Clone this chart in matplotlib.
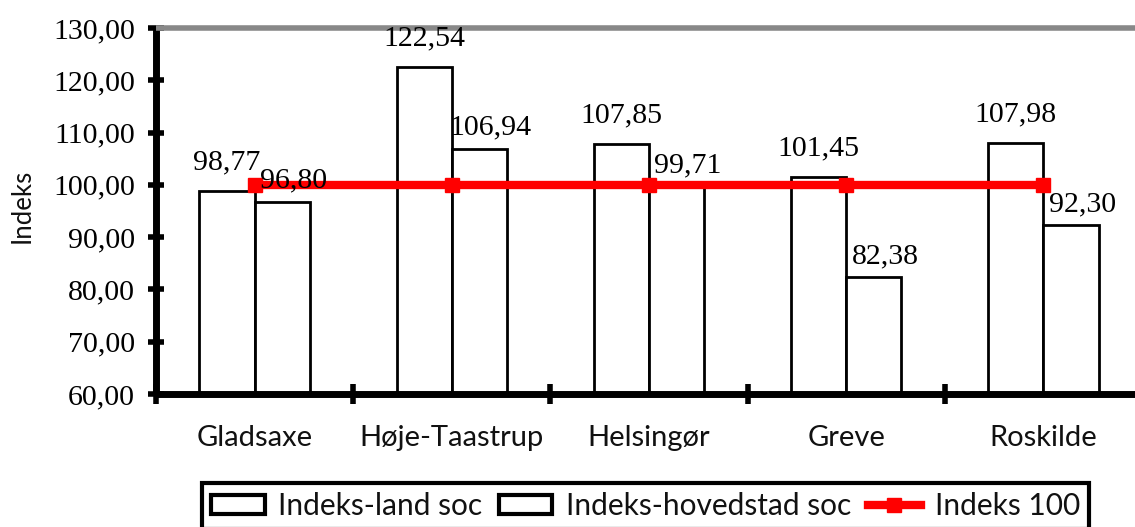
import matplotlib
matplotlib.use("Agg")
import matplotlib.pyplot as plt
import numpy as np
from matplotlib.ticker import FuncFormatter, FixedLocator

categories = ['Gladsaxe', 'Høje-Taastrup', 'Helsingør', 'Greve', 'Roskilde']
land_soc = [98.77, 122.54, 107.85, 101.45, 107.98]
hovedstad_soc = [96.80, 106.94, 99.71, 82.38, 92.30]
indeks_100 = [100, 100, 100, 100, 100]
series_names = ['Indeks-land soc', 'Indeks-hovedstad soc', 'Indeks 100']
y_ticks = [60, 70, 80, 90, 100, 110, 120, 130]

SANS = ['Lato', 'DejaVu Sans']
SERIF = ['Liberation Serif', 'DejaVu Serif']

fig = plt.figure(figsize=(11.35, 5.27), dpi=100)
W, H = 1135, 527
ax = fig.add_axes([156 / W, 1 - 394 / H, (1142 - 156) / W, (394 - 28) / H])

x = np.arange(len(categories))
bw = 0.28
ymin = y_ticks[0]
b1 = ax.bar(x - bw / 2, np.array(land_soc) - ymin, bw, bottom=ymin, color='white',
            edgecolor='black', linewidth=2, label=series_names[0], zorder=2)
b2 = ax.bar(x + bw / 2, np.array(hovedstad_soc) - ymin, bw, bottom=ymin, color='white',
            edgecolor='black', linewidth=2, label=series_names[1], zorder=2)
ln, = ax.plot(x, indeks_100, color='#ff0000', linewidth=6, marker='s', markersize=10.5,
              markeredgecolor='#ff0000', label=series_names[2], zorder=3)

def fmt(v):
    return f"{v:.2f}".replace('.', ',')

for xi, v in zip(x, land_soc):
    ax.annotate(fmt(v), (xi - bw / 2, v), xytext=(0, 15.5), textcoords='offset points',
                ha='center', va='baseline', fontsize=21.5, family=SERIF, zorder=5)
for xi, v in zip(x, hovedstad_soc):
    ax.annotate(fmt(v), (xi + bw / 2, v), xytext=(8, 10), textcoords='offset points',
                ha='center', va='baseline', fontsize=21.5, family=SERIF, zorder=5)

ax.set_xlim(-0.5, len(categories) - 0.5)
ax.set_ylim(y_ticks[0], y_ticks[-1])
ax.yaxis.set_major_locator(FixedLocator(y_ticks))
ax.yaxis.set_major_formatter(FuncFormatter(lambda v, p: fmt(v)))
for lab in ax.get_yticklabels():
    lab.set_fontfamily(SERIF)
ax.tick_params(axis='y', direction='inout', length=12, width=4, labelsize=21.5, pad=9)

# category separators as major ticks, names as minor ticks
ax.set_xticks(np.arange(-0.5, len(categories) + 0.5, 1.0))
ax.set_xticklabels([])
ax.set_xticks(x, minor=True)
ax.set_xticklabels(categories, minor=True, fontsize=21, family=SANS, color='#111111')
ax.tick_params(axis='x', which='major', direction='inout', length=14, width=4)
ax.tick_params(axis='x', which='minor', length=0, pad=22)

for s in ['left', 'bottom']:
    ax.spines[s].set_linewidth(5)
    ax.spines[s].set_color('black')
ax.spines['top'].set_color('#888888')
ax.spines['top'].set_linewidth(4)
ax.spines['right'].set_visible(False)
for s in ax.spines.values():
    s.set_capstyle('butt')

fig.text(22 / W, 1 - 206 / H, 'Indeks', rotation=90, ha='center', va='center',
         fontsize=18.5, family=SANS, color='#111111')

leg = fig.legend(handles=[b1, b2, ln], labels=series_names, ncol=3,
                 loc='upper left', bbox_to_anchor=(202 / W, 1 - 483 / H),
                 bbox_transform=fig.transFigure, borderaxespad=0,
                 prop={'family': SANS, 'size': 21.5},
                 frameon=True, fancybox=False, framealpha=1, edgecolor='black',
                 handlelength=1.8, handleheight=0.6, handletextpad=0.45,
                 columnspacing=0.55, borderpad=0.3)
for t in leg.get_texts():
    t.set_color('#111111')
leg.get_frame().set_linewidth(3)
for p in leg.get_patches():
    p.set_linewidth(3)

fig.savefig('out.png', dpi=100)
